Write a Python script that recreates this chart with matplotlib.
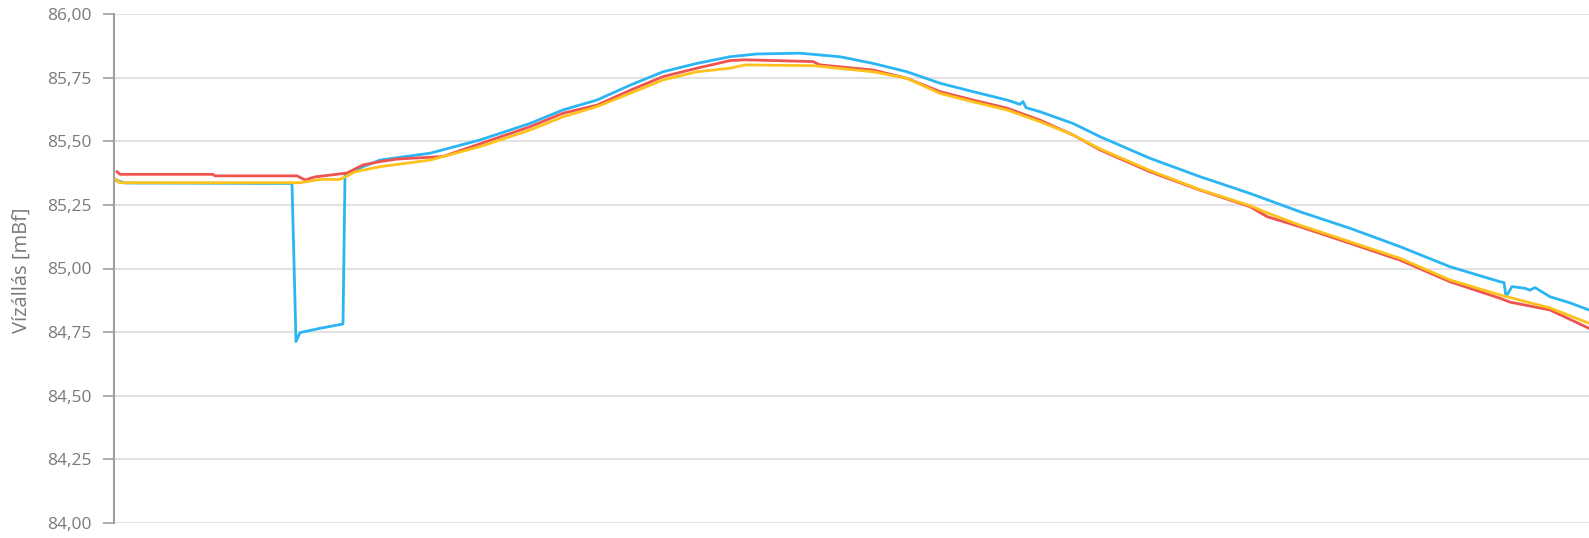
import numpy as np
import matplotlib
matplotlib.use("Agg")
import matplotlib.pyplot as plt
from matplotlib.ticker import FixedLocator, FuncFormatter

# sample index (time steps) and water level [mBf] per gauge
T_BLUE = [2, 6, 11, 178, 182, 186, 206, 229, 231, 249, 266, 316, 366, 416, 449, 483,
          516, 549, 583, 616, 643, 686, 726, 759, 793, 826, 859, 893, 906, 909, 912,
          926, 959, 986, 1036, 1086, 1136, 1186, 1236, 1286, 1336, 1386, 1390, 1392,
          1398, 1411, 1416, 1421, 1436, 1456, 1475]
V_BLUE = [85.350, 85.342, 85.336, 85.334, 84.713, 84.748, 84.765, 84.782, 85.367,
          85.400, 85.426, 85.453, 85.505, 85.570, 85.623, 85.662, 85.720, 85.773,
          85.806, 85.832, 85.843, 85.846, 85.832, 85.806, 85.773, 85.728, 85.695,
          85.662, 85.645, 85.656, 85.632, 85.616, 85.570, 85.518, 85.433, 85.361,
          85.295, 85.223, 85.158, 85.086, 85.007, 84.948, 84.945, 84.889, 84.929,
          84.922, 84.915, 84.925, 84.889, 84.865, 84.837]

T_RED = [3, 6, 99, 101, 183, 191, 201, 216, 233, 249, 266, 283, 329, 366, 416, 449,
         483, 516, 549, 583, 616, 631, 699, 706, 759, 793, 826, 859, 893, 926, 959,
         986, 1036, 1086, 1136, 1153, 1186, 1236, 1286, 1336, 1386, 1396, 1436, 1475]
V_RED = [85.380, 85.370, 85.370, 85.364, 85.364, 85.348, 85.360, 85.367, 85.375,
         85.407, 85.420, 85.430, 85.440, 85.490, 85.557, 85.610, 85.642, 85.700,
         85.754, 85.787, 85.817, 85.820, 85.813, 85.800, 85.780, 85.747, 85.695,
         85.662, 85.630, 85.583, 85.525, 85.466, 85.380, 85.308, 85.243, 85.204,
         85.164, 85.099, 85.033, 84.948, 84.883, 84.868, 84.837, 84.765]

T_YELLOW = [2, 6, 186, 206, 226, 241, 266, 316, 366, 416, 449, 483, 516, 549, 583,
            616, 631, 699, 759, 793, 826, 859, 893, 926, 959, 986, 1036, 1086, 1136,
            1153, 1186, 1236, 1286, 1336, 1386, 1392, 1436, 1475]
V_YELLOW = [85.350, 85.337, 85.337, 85.350, 85.350, 85.380, 85.400, 85.426, 85.479,
            85.544, 85.596, 85.636, 85.688, 85.741, 85.773, 85.787, 85.800, 85.797,
            85.773, 85.747, 85.688, 85.655, 85.623, 85.577, 85.525, 85.470, 85.385,
            85.310, 85.247, 85.219, 85.170, 85.105, 85.040, 84.955, 84.896, 84.890,
            84.845, 84.785]

T_GREEN = [2, 5, 8]
V_GREEN = [85.346, 85.340, 85.338]

Y_TICKS = [84.00, 84.25, 84.50, 84.75, 85.00, 85.25, 85.50, 85.75, 86.00]
Y_LABEL = "Vízállás [mBf]"

FONT = ["Open Sans", "DejaVu Sans"]
TEXT_GREY = "#7a7a7a"
LW = 2.0


def main():
    plt.rcParams["font.family"] = FONT
    fig = plt.figure(figsize=(15.89, 5.38), dpi=100)
    ax = fig.add_axes([114 / 1589, 15 / 538, 1 - 114 / 1589, 509 / 538])

    ax.plot(T_GREEN, V_GREEN, color="#8cc63f", lw=LW, zorder=2)
    ax.plot(T_BLUE, V_BLUE, color="#2bb5f3", lw=LW, zorder=3)
    ax.plot(T_RED, V_RED, color="#ef5350", lw=LW, zorder=4)
    ax.plot(T_YELLOW, V_YELLOW, color="#ffc21c", lw=LW, zorder=5)

    ax.set_xlim(0, 1475)
    ax.set_ylim(84.0, 86.0)
    ax.yaxis.set_major_locator(FixedLocator(Y_TICKS))
    ax.yaxis.set_major_formatter(
        FuncFormatter(lambda v, p: f"{v:.2f}".replace(".", ",")))
    ax.set_xticks([])

    ax.grid(axis="y", color="#e2e2e2", lw=1.5, zorder=0)
    ax.set_axisbelow(True)
    for s in ["top", "right", "bottom"]:
        ax.spines[s].set_visible(False)
    ax.spines["left"].set_color("#a0a0a0")
    ax.spines["left"].set_linewidth(1.5)
    ax.tick_params(axis="y", length=8, width=1.2, color="#a0a0a0",
                   labelsize=12.5, labelcolor=TEXT_GREY, pad=8)

    fig.text(22 / 1589, 1 - 270 / 538, Y_LABEL, rotation=90, ha="center",
             va="center", fontsize=14.5, color=TEXT_GREY)

    fig.savefig("out.png", dpi=100)


if __name__ == "__main__":
    main()
